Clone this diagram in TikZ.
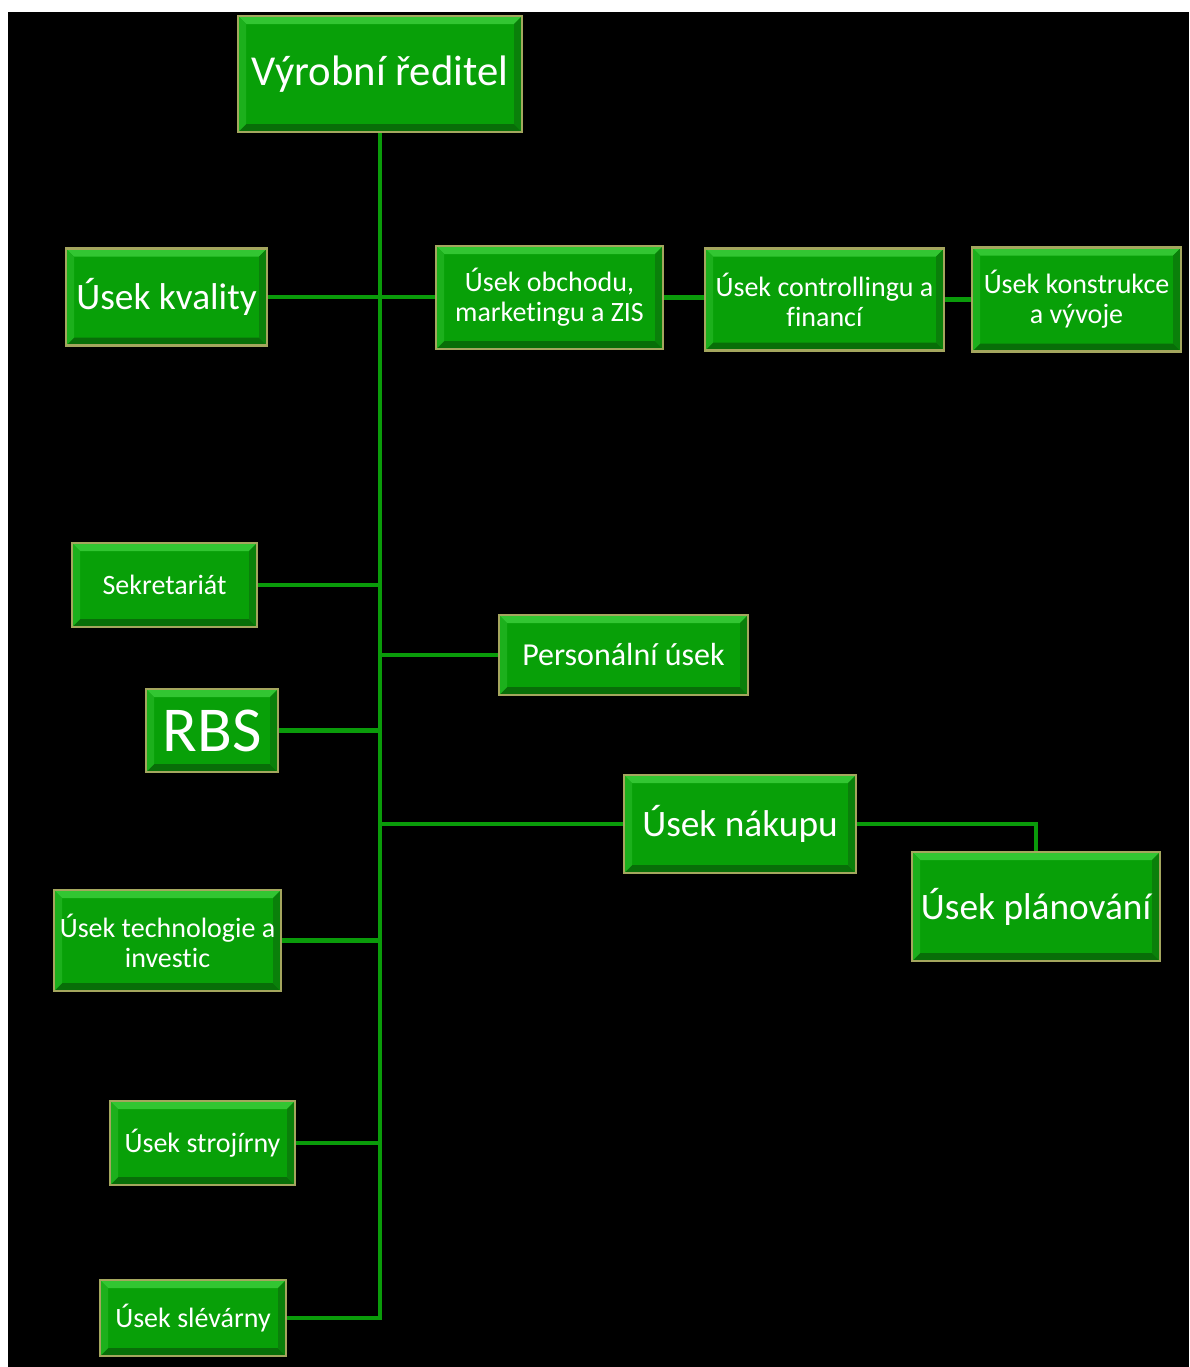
\documentclass[tikz,border=0pt]{standalone}
\usepackage{fontspec}
\setmainfont{Carlito}[Ligatures=NoCommon]
\usetikzlibrary{backgrounds}

\definecolor{boxgreen}{RGB}{8,160,8}
\definecolor{bevlight}{RGB}{50,198,50}
\definecolor{bevdark}{RGB}{8,110,8}
\definecolor{bevleft}{RGB}{28,176,28}
\definecolor{bevright}{RGB}{10,128,10}
\definecolor{rim}{RGB}{164,166,94}
\definecolor{linegreen}{RGB}{10,155,10}

\tikzset{
  box/.style={rectangle, fill=boxgreen, draw=rim, line width=2.2pt,
    text=white, align=center, inner sep=0pt,
    font=\fontsize{21}{22.5}\selectfont,
    path picture={
      \fill[bevlight] (path picture bounding box.north west) -- (path picture bounding box.north east)
        -- ([xshift=-6pt,yshift=-6pt]path picture bounding box.north east)
        -- ([xshift=6pt,yshift=-6pt]path picture bounding box.north west) -- cycle;
      \fill[bevdark] (path picture bounding box.south west) -- (path picture bounding box.south east)
        -- ([xshift=-6pt,yshift=6pt]path picture bounding box.south east)
        -- ([xshift=6pt,yshift=6pt]path picture bounding box.south west) -- cycle;
      \fill[bevleft] (path picture bounding box.north west) -- (path picture bounding box.south west)
        -- ([xshift=6pt,yshift=6pt]path picture bounding box.south west)
        -- ([xshift=6pt,yshift=-6pt]path picture bounding box.north west) -- cycle;
      \fill[bevright] (path picture bounding box.north east) -- (path picture bounding box.south east)
        -- ([xshift=-6pt,yshift=6pt]path picture bounding box.south east)
        -- ([xshift=-6pt,yshift=-6pt]path picture bounding box.north east) -- cycle;
    }},
  sz/.style 2 args={minimum width=#1*0.75pt, minimum height=#2*0.75pt},
  big/.style={font=\fontsize{28}{30}\selectfont},
  mid/.style={font=\fontsize{24}{26}\selectfont},
  conn/.style={draw=linegreen, line width=3.4pt},
}

\begin{document}
\begin{tikzpicture}[x=0.75pt, y=-0.75pt]
  \useasboundingbox (0,0) rectangle (1189,1367);

  % top level
  \node[box, sz={284}{116}, font=\fontsize{32}{34}\selectfont] (dir) at (380,74) {Výrobní ředitel};

  % first row
  \node[box, big, sz={201}{97}] (kval) at (166.5,297) {Úsek kvality};
  \node[box, sz={227}{103}] (obch) at (549.5,297.5) {Úsek obchodu,\\marketingu a ZIS};
  \node[box, sz={239}{102}] (ctrl) at (824.5,299.5) {Úsek controllingu a\\financí};
  \node[box, sz={209}{104}] (kons) at (1076.5,299.5) {Úsek konstrukce\\a vývoje};

  % middle
  \node[box, sz={185}{84}] (sekr) at (164.5,585) {Sekretariát};
  \node[box, mid, sz={249}{80}] (pers) at (623.5,655) {Personální úsek};
  \node[box, font=\fontsize{48}{50}\selectfont, sz={132}{83}] (rbs) at (212,730.5) {RBS};
  \node[box, big, sz={232}{98}] (nak) at (740,824) {Úsek nákupu};
  \node[box, big, sz={248}{109}] (plan) at (1036,906.5) {Úsek plánování};

  % lower left
  \node[box, sz={227}{101}] (tech) at (167.5,940.5) {Úsek technologie a\\investic};
  \node[box, sz={185}{84}] (stroj) at (202.5,1143) {Úsek strojírny};
  \node[box, sz={186}{76}] (slev) at (193,1318) {Úsek slévárny};

  \begin{pgfonlayer}{background}
    \fill[white] (0,0) rectangle (1189,1367);
    \fill[black] (8,12) rectangle (1189,1367);

    \coordinate (trunkend) at (dir.south |- slev.east);
    % main trunk
    \draw[conn] (dir.south) -- (trunkend) -- (slev.east);
    % branches
    \draw[conn] (kval.east) -- (kval.east -| obch.west);
    \draw[conn] (obch.east) -- (obch.east -| ctrl.west);
    \draw[conn] (ctrl.east) -- (ctrl.east -| kons.west);
    \draw[conn] (sekr.east) -- (sekr.east -| dir.south);
    \draw[conn] (pers.west) -- (pers.west -| dir.south);
    \draw[conn] (rbs.east) -- (rbs.east -| dir.south);
    \draw[conn] (nak.west) -- (nak.west -| dir.south);
    \draw[conn] (nak.east) -| (plan.north);
    \draw[conn] (tech.east) -- (tech.east -| dir.south);
    \draw[conn] (stroj.east) -- (stroj.east -| dir.south);
  \end{pgfonlayer}
\end{tikzpicture}
\end{document}
